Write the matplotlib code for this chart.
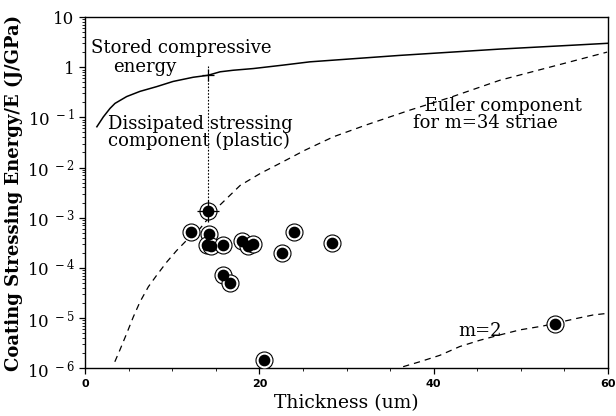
import numpy as np
import matplotlib
matplotlib.use('Agg')
import matplotlib.pyplot as plt
from matplotlib.ticker import LogLocator, NullFormatter

plt.rcParams['font.family'] = ['DejaVu Serif']
plt.rcParams['mathtext.fontset'] = 'dejavuserif'

# measured points (thickness um, energy/E J/GPa)
pt_x = [12.2, 14.1, 14.2, 14.0, 14.5, 15.8, 15.8, 16.6, 18.0, 18.7, 19.3, 20.5, 22.6, 24.0, 28.3, 53.9]
pt_y = [5.1e-4, 1.35e-3, 4.7e-4, 2.8e-4, 2.7e-4, 2.8e-4, 7.1e-5, 5.0e-5, 3.5e-4, 2.7e-4, 2.95e-4,
        1.45e-6, 2.0e-4, 5.1e-4, 3.1e-4, 7.6e-6]

# stored compressive energy (solid)
st_x = [1.36, 2.1, 2.87, 3.44, 4.78, 6.31, 8.22, 10.1, 12.4, 14.1, 15.5, 17.0, 19.3, 22.7, 25.8,
        36.1, 47.6, 56.0, 60.0]
st_y = [0.065, 0.102, 0.151, 0.19, 0.26, 0.33, 0.41, 0.52, 0.63, 0.69, 0.81, 0.87, 0.94, 1.10, 1.28,
        1.72, 2.3, 2.75, 3.0]

# euler component m=34 (dashed)
e34_x = [3.42, 4.0, 4.78, 5.54, 6.31, 7.27, 8.22, 9.37, 10.5, 11.7, 13.2, 14.3, 15.5, 17.8, 20.1,
         22.7, 25.2, 28.5, 32.3, 37.3, 41.9, 47.6, 53.3, 59.9]
e34_y = [1.34e-6, 2.3e-6, 4.9e-6, 1.05e-5, 2.1e-5, 4.2e-5, 7.1e-5, 1.3e-4, 2.2e-4, 3.6e-4, 6.1e-4,
         1.05e-3, 1.8e-3, 4.4e-3, 7.6e-3, 0.013, 0.022, 0.041, 0.071, 0.14, 0.25, 0.55, 1.0, 2.0]

# euler component m=2 (dashed)
e2_x = [36.5, 38.4, 40.7, 43.0, 45.3, 47.6, 49.9, 52.5, 56.4, 58.3, 59.8]
e2_y = [1.07e-6, 1.34e-6, 1.8e-6, 2.7e-6, 3.6e-6, 4.6e-6, 5.8e-6, 6.9e-6, 9.8e-6, 1.15e-5, 1.23e-5]

fig = plt.figure(figsize=(6.16, 4.16), dpi=100)
ax = fig.add_axes([0.138, 0.115, 0.849, 0.844])

ax.plot(st_x, st_y, color='black', lw=1.1)
ax.plot(e34_x, e34_y, color='black', lw=0.9, dashes=(5, 4))
ax.plot(e2_x, e2_y, color='black', lw=0.9, dashes=(5, 4))

# vertical dotted marker line at 14 um
ax.plot([14.1, 14.1], [pt_y[1], 1.1], color='black', lw=0.8, ls=(0, (1.5, 1.5)))
ax.plot([14.1], [0.69], marker='+', ms=9, mew=0.9, color='black')

ax.scatter(pt_x, pt_y, s=150, facecolor='white', edgecolor='black', linewidth=0.8, zorder=3)
ax.scatter(pt_x, pt_y, s=55, color='black', zorder=4)
ax.plot([pt_x[1]], [pt_y[1]], marker='+', ms=16, mew=0.9, color='black', zorder=5)

ax.set_yscale('log')
ax.set_xlim(0, 60)
ax.set_ylim(1e-6, 10)

ax.set_xticks([0, 20, 40, 60])
ax.set_xticks(np.arange(0, 61, 5), minor=True)
ax.set_xticklabels(['0', '20', '40', '60'], family='DejaVu Sans', fontsize=8, fontweight='bold')

yt = [1e-6, 1e-5, 1e-4, 1e-3, 1e-2, 1e-1, 1, 10]
ylab = [r'10$^{\ -6}$', r'10$^{\ -5}$', r'10$^{\ -4}$', r'10$^{\ -3}$', r'10$^{\ -2}$',
        r'10$^{\ -1}$', '1', '10']
ax.set_yticks(yt)
ax.set_yticklabels(ylab, fontsize=12)
ax.yaxis.set_minor_locator(LogLocator(base=10, subs=np.arange(2, 10), numticks=100))
ax.yaxis.set_minor_formatter(NullFormatter())

ax.tick_params(which='major', direction='out', length=4, width=0.9)
ax.tick_params(which='minor', direction='out', length=2.5, width=0.6)
for s in ax.spines.values():
    s.set_linewidth(1.0)

ax.set_xlabel('Thickness (um)', fontsize=13.5, labelpad=4)
ax.set_ylabel('Coating Stressing Energy/E (J/GPa)', fontsize=13, fontweight='bold', labelpad=3)

ax.text(0.7, 2.4, 'Stored compressive', fontsize=13, va='center')
ax.text(3.2, 1.0, 'energy', fontsize=13, va='center')
ax.text(2.6, 0.049, 'Dissipated stressing\ncomponent (plastic)', fontsize=13, va='center',
        linespacing=0.9)
ax.text(37.6, 0.113, '  Euler component\nfor m=34 striae', fontsize=13, va='center',
        linespacing=0.9)
ax.text(42.8, 5.5e-6, 'm=2', fontsize=13, va='center')

fig.savefig('out.png', dpi=100)
